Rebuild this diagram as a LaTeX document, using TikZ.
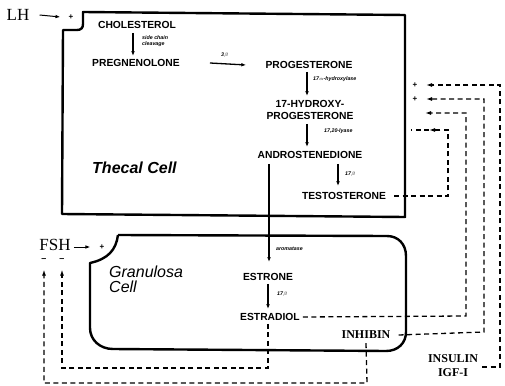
\documentclass[tikz,border=0pt]{standalone}
\usepackage{fontspec}
\setmainfont{Liberation Sans}
\newfontfamily\serifb{Liberation Serif}
\usetikzlibrary{arrows.meta}
\begin{document}
\begin{tikzpicture}[x=1pt,y=-1pt,
  chem/.style={font=\fontsize{10.3}{12}\selectfont\bfseries, inner sep=0pt, align=center},
  enz/.style={font=\fontsize{5.3}{6}\selectfont\bfseries\itshape, inner sep=0pt, anchor=west, align=left},
  hor/.style={font=\serifb\bfseries\fontsize{12}{14}\selectfont, inner sep=0pt, align=center},
  big/.style={font=\serifb\fontsize{17}{17}\selectfont, inner sep=0pt},
  celllabel/.style={font=\fontsize{16}{17}\selectfont\itshape, inner sep=0pt, anchor=west, align=left},
  cellbox/.style={line width=2.4pt, line join=round},
  step arrow/.style={line width=1.3pt, -{Latex[length=5pt,width=3.6pt]}},
  fb/.style={line width=1.3pt, dash pattern=on 5pt off 3.5pt},
  fbarrow/.style={fb, -{Latex[length=6pt,width=4pt]}},
  sign/.style={font=\bfseries\fontsize{8}{8}\selectfont, inner sep=0pt}
]
\useasboundingbox (0,0) rectangle (505,385);

% cell boxes
\draw[cellbox] (63,30) -- (77,30) .. controls (81,30) and (83,28) .. (83,24) -- (83,12) -- (405,15) -- (405,217) -- (62,214) -- cycle;
\draw[cellbox] (118,235) -- (387,236) .. controls (398,236) and (406,244) .. (406,256) -- (406,332)
  .. controls (406,343) and (398,351) .. (386,351) -- (113,349)
  .. controls (100,349) and (90,340) .. (90,328) -- (90,263)
  .. controls (108,259) and (116,250) .. (118,235);

% cell labels
\node[celllabel, font=\fontsize{16}{17}\selectfont\bfseries\itshape] (thecal) at (92,168) {Thecal Cell};
\node[celllabel] (granulosa) at (109,279) {Granulosa\\[-2pt]Cell};

% hormones
\node[big] (LH) at (18,15) {LH};
\node[sign] (lhplus) at (71,17) {+};
\node[big] (FSH) at (55,245) {FSH};
\node[sign] (fshplus) at (102,247) {+};

% steroid pathway
\node[chem] (chol) at (137,25) {CHOLESTEROL};
\node[chem] (preg) at (136,63) {PREGNENOLONE};
\node[chem] (prog) at (309,65) {PROGESTERONE};
\node[chem] (ohp) at (310,110) {17-HYDROXY-\\PROGESTERONE};
\node[chem] (andro) at (310,155) {ANDROSTENEDIONE};
\node[chem] (testo) at (344,196) {TESTOSTERONE};
\node[chem] (estrone) at (268,277) {ESTRONE};
\node[chem] (estradiol) at (270,317) {ESTRADIOL};
\node[hor] (inhibin) at (366,335) {INHIBIN};
\node[hor] (insulin) at (453,366) {INSULIN\\IGF-I};

% enzyme labels
\node[enz] (scc) at (142,41) {side chain\\cleavage};
\node[enz] (e3b) at (221,55) {3$\beta$};
\node[enz] (hyd) at (313,79) {17$\alpha$-hydroxylase};
\node[enz] (lya) at (324,131) {17,20-lyase};
\node[enz] (e17a) at (345,174) {17$\beta$};
\node[enz] (aro) at (276,249) {aromatase};
\node[enz] (e17b) at (277,294) {17$\beta$};

% pathway arrows
\draw[step arrow] ([xshift=-4pt,yshift=-4pt]chol.south) -- ([xshift=-3pt,yshift=3pt]preg.north);
\draw[step arrow] ([xshift=30pt]preg.east) -- ([xshift=-19pt]prog.west);
\draw[step arrow] ([xshift=-2pt,yshift=-3pt]prog.south) -- ([xshift=-3pt,yshift=4pt]ohp.north);
\draw[step arrow] ([xshift=-3pt,yshift=-4pt]ohp.south) -- ([xshift=-3pt,yshift=4pt]andro.north);
\draw[step arrow] ([xshift=28pt,yshift=-5pt]andro.south) -- ([xshift=-6pt,yshift=6pt]testo.north);
\draw[step arrow] ([xshift=-41pt,yshift=-5pt]andro.south) -- ([xshift=1pt,yshift=11pt]estrone.north);
\draw[step arrow] ([yshift=-3pt]estrone.south) -- ([xshift=-2pt,yshift=4pt]estradiol.north);

% LH / FSH stimulation
\draw[step arrow, line width=1pt] ([xshift=10pt]LH.east) -- ([xshift=-8pt]lhplus.west);
\draw[step arrow, line width=1pt] ([xshift=3pt]FSH.east |- fshplus) -- ([xshift=-9pt]fshplus.west);

% right-hand feedback loops
\node[sign] (p1) at (415,85) {+};
\node[sign] (p2) at (415,99) {+};
\coordinate (t1) at (426,85);
\coordinate (t2) at (426,99);
\coordinate (t3) at (425,113);
\coordinate (t4) at (429,130);
\coordinate (t4end) at (411,130);
\draw[fbarrow] ([xshift=4pt]insulin.east |- 0,367) -- (500,367) -- (500,85) -- (t1);
\draw[fbarrow] ([xshift=8pt]inhibin.east) -- (484,332) -- (484,99) -- (t2);
\draw[fbarrow] ([xshift=3pt]estradiol.east) -- (466,316) -- (466,113) -- (t3);
\draw[fbarrow] ([xshift=8pt]testo.east) -- (448,196) -- (448,130) -- (t4);
\draw[fb] (t4) -- (t4end);

% FSH feedback loops
\node[sign, font=\bfseries\fontsize{9}{9}\selectfont] (m1) at (44,260) {--};
\node[sign, font=\bfseries\fontsize{9}{9}\selectfont] (m2) at (62,260) {--};
\draw[fbarrow] ([xshift=-2pt,yshift=-3pt]estradiol.south) -- (268,368) -- (62,368) -- ([yshift=-8pt]m2.south);
\draw[fbarrow] ([yshift=-4pt]inhibin.south) -- (367,383) -- (44,383) -- ([yshift=-8pt]m1.south);
\end{tikzpicture}
\end{document}
